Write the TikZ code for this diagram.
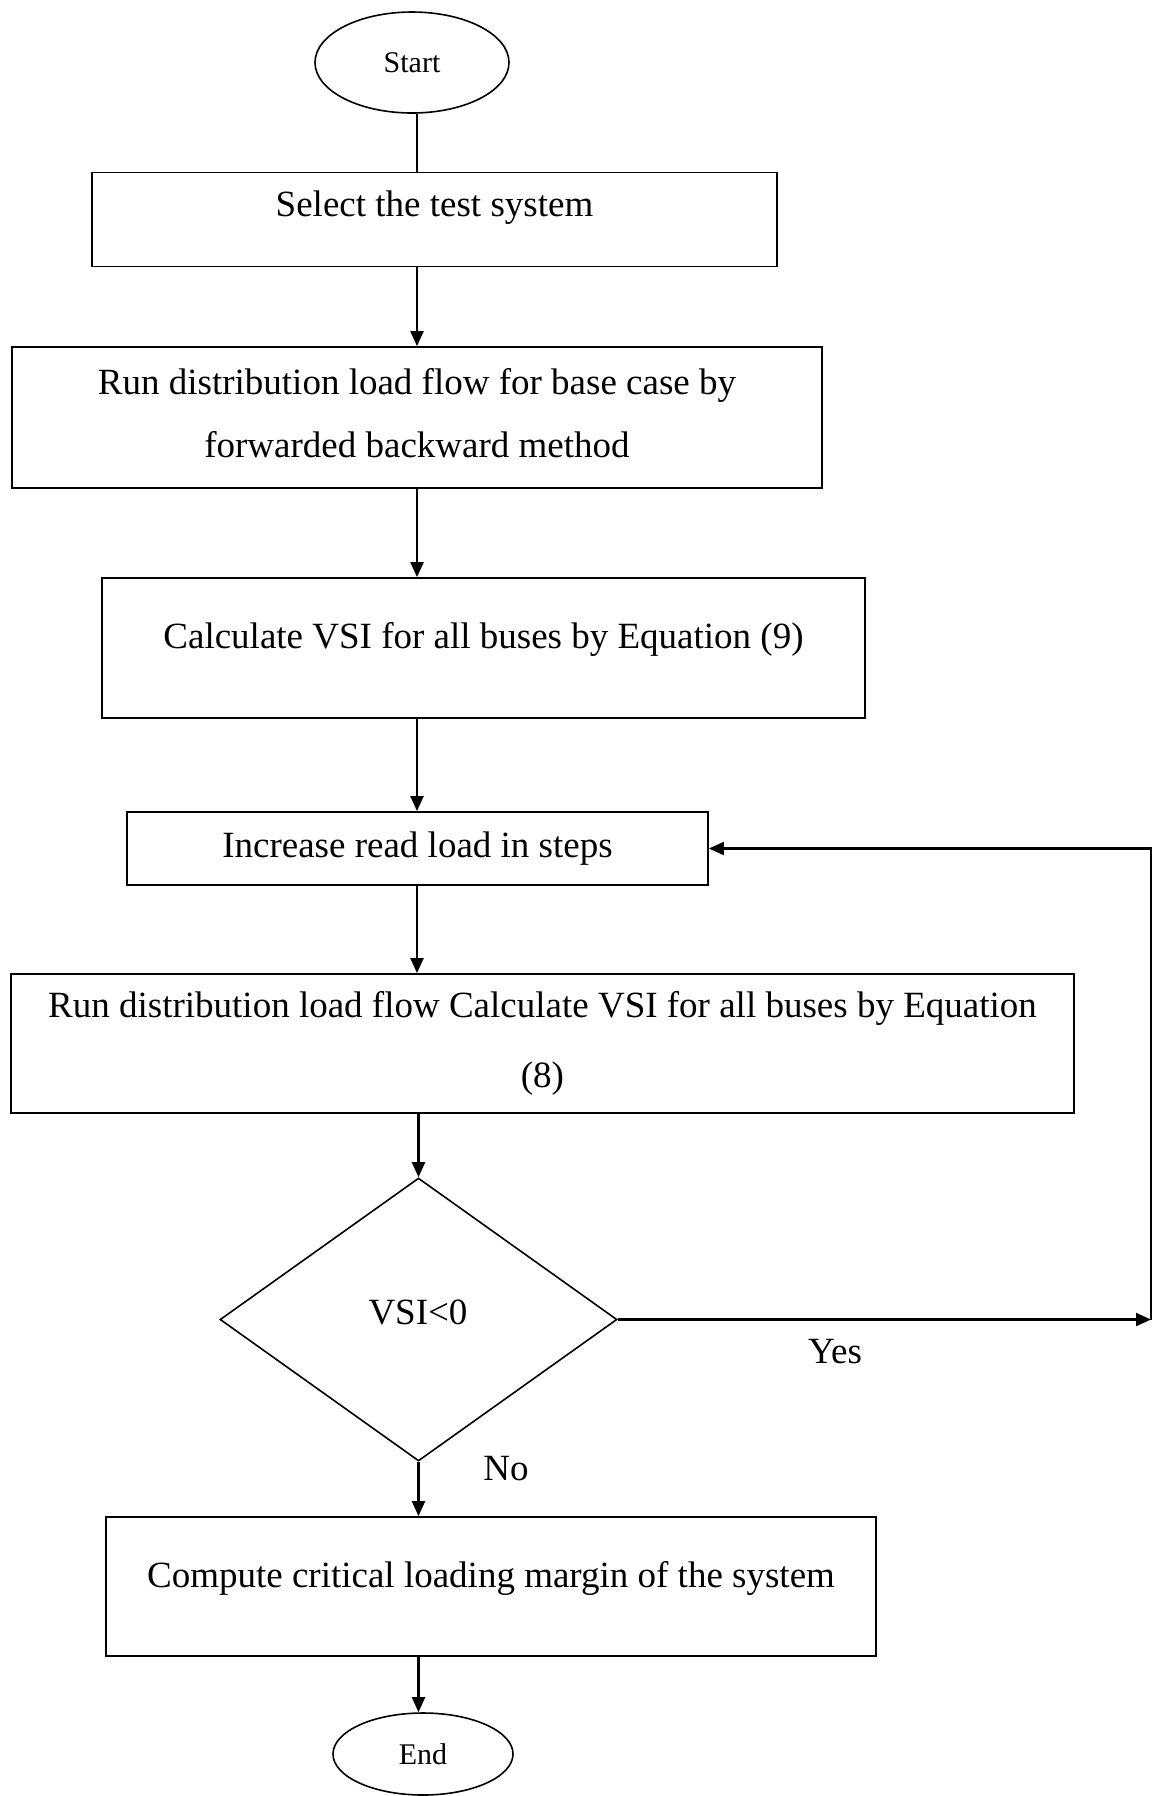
\documentclass[tikz,border=0pt]{standalone}
\usepackage{fontspec}
\setmainfont{Liberation Serif}
\usetikzlibrary{shapes.geometric,arrows.meta}
\begin{document}
\begin{tikzpicture}[x=0.5pt,y=-0.5pt,
  box/.style={draw=black, line width=0.9pt, rectangle, inner sep=0pt},
  txt/.style={font=\fontsize{18.5}{22}\selectfont, align=center, inner sep=0pt},
  term/.style={draw=black, line width=0.8pt, ellipse, inner sep=0pt, font=\fontsize{15}{18}\selectfont},
  dia/.style={draw=black, line width=0.8pt, diamond, inner sep=0pt, font=\fontsize{18}{22}\selectfont},
  lbl/.style={font=\fontsize{18.5}{22}\selectfont, inner sep=0pt},
  arr/.style={line width=1.1pt, -{Triangle[length=7.5pt,width=6.5pt]}},
  plain/.style={line width=1.1pt}]
\useasboundingbox (0,0) rectangle (1154,1796);
\fill[white] (0,0) rectangle (1154,1796);

\node[term, minimum width=97pt, minimum height=50.5pt] (start) at (412,62.5) {Start};

\node[box, minimum width=342.5pt, minimum height=47pt,
  label={[txt,yshift=6pt]center:Select the test system}] (b1) at (434.5,219.5) {};

\node[box, minimum width=405pt, minimum height=70.5pt,
  label={[txt,yshift=2pt]center:Run distribution load flow for base case by\\[9.5pt]forwarded backward method}] (b2) at (417,417.5) {};

\node[box, minimum width=381.5pt, minimum height=70pt,
  label={[txt,yshift=4.5pt]center:Calculate VSI for all buses by Equation (9)}] (b3) at (483.5,648) {};

\node[box, minimum width=290.5pt, minimum height=36.5pt,
  label={[txt]center:Increase read load in steps}] (b4) at (417.5,848.5) {};

\node[box, minimum width=531.5pt, minimum height=69.5pt,
  label={[txt]center:Run distribution load flow Calculate VSI for all buses by Equation\\[13pt](8)}] (b6) at (542.5,1043.5) {};

\node[dia, minimum width=198.5pt, minimum height=141.5pt] (dec) at (418.5,1319.5) {};
\node[lbl] (dect) at (418,1312) {VSI<0};

\node[box, minimum width=385pt, minimum height=69.5pt,
  label={[txt,yshift=4pt]center:Compute critical loading margin of the system}] (b7) at (491,1586.5) {};

\node[term, minimum width=90pt, minimum height=41pt] (end) at (423,1754) {End};

\coordinate (sx) at (417,0);
\coordinate (r1) at (1151,1319.5);

\draw[plain] (start.south -| sx) -- (b1.north -| sx);
\draw[arr] (b1.south -| sx) -- (b2.north -| sx);
\draw[arr] (b2.south -| sx) -- (b3.north -| sx);
\draw[arr] (b3.south -| sx) -- (b4.north -| sx);
\draw[arr] (b4.south -| sx) -- (b6.north -| sx);
\draw[arr] (b6.south -| dec.north) -- (dec.north);
\draw[arr] (dec.south) -- (b7.north -| dec.south);
\draw[arr] (b7.south -| dec.south) -- (end.north -| dec.south);
\draw[arr] (dec.east) -- (r1);
\draw[arr] (r1) |- (b4.east);

\node[lbl] (yes) at (835,1352) {Yes};
\node[lbl] (no) at (506,1469) {No};
\end{tikzpicture}
\end{document}
